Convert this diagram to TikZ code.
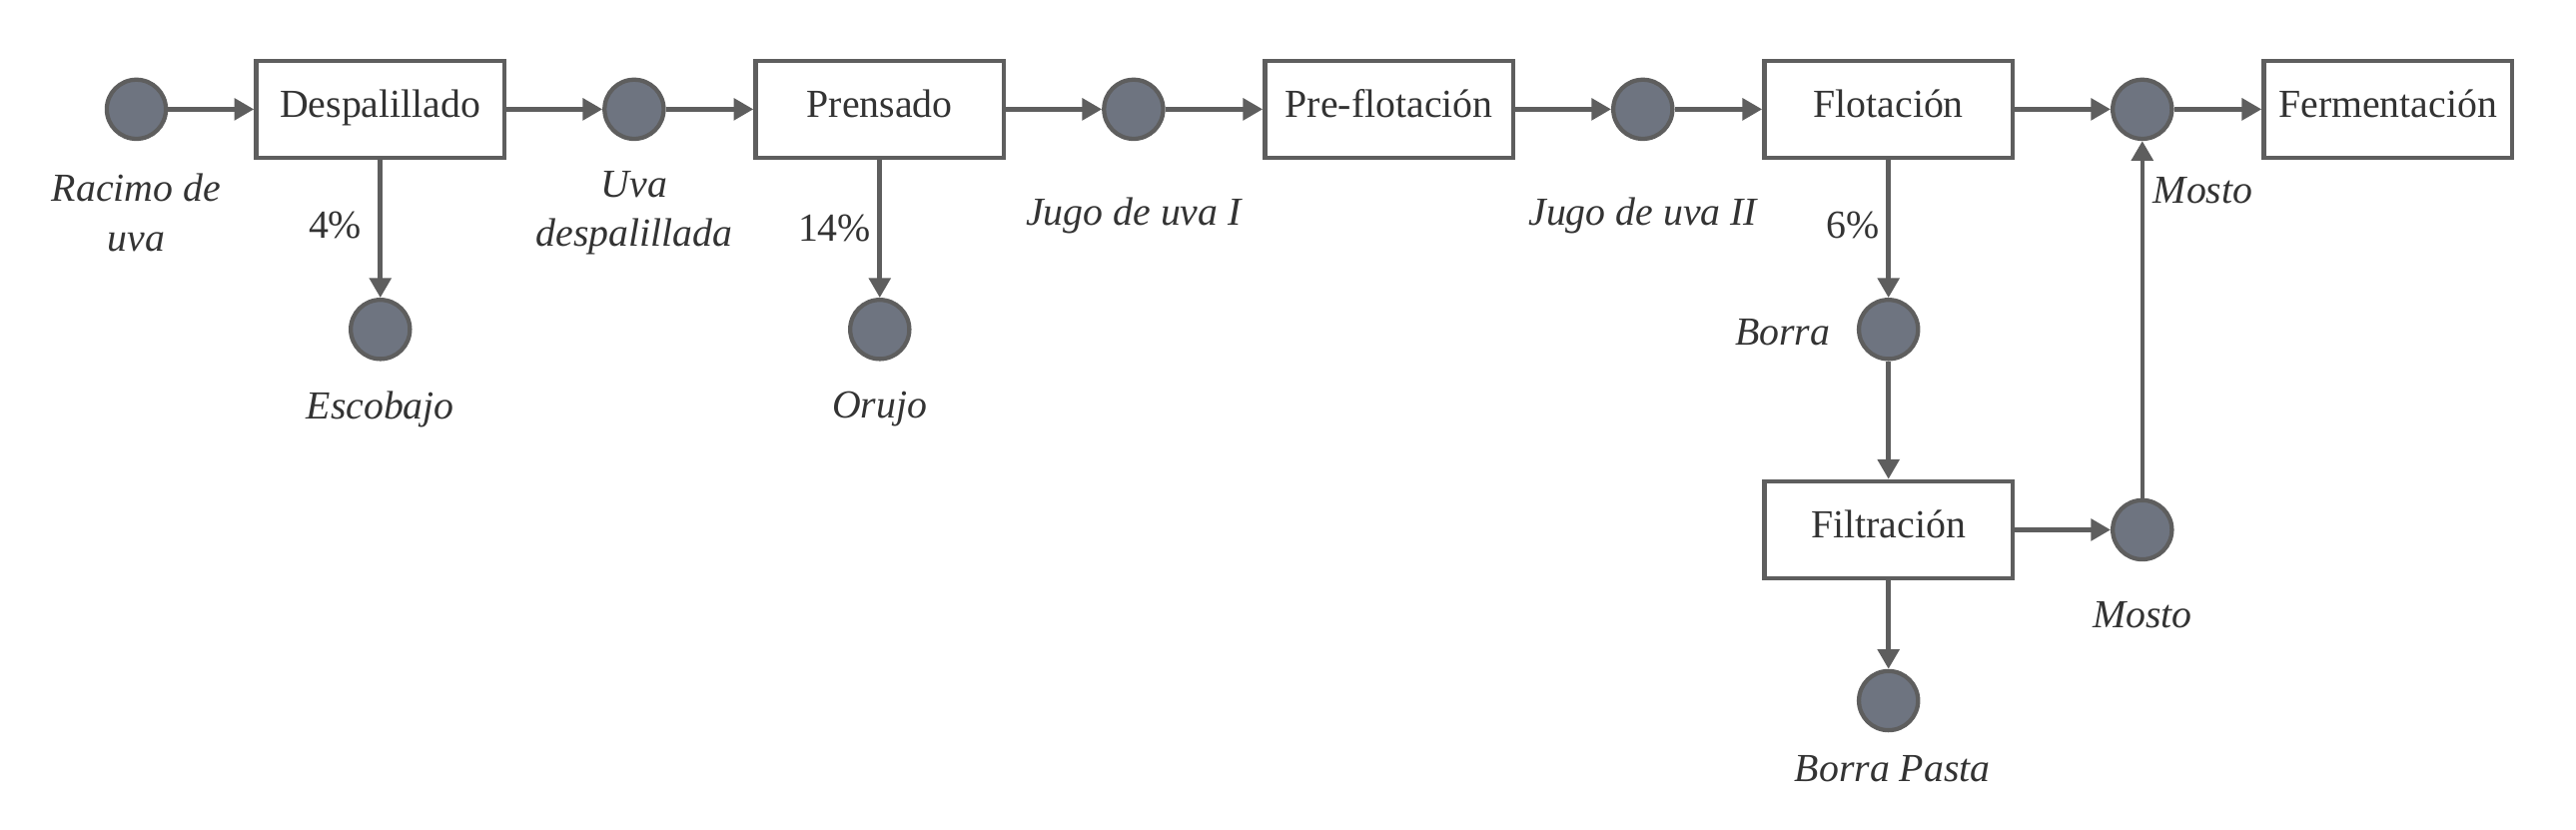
\documentclass[tikz,border=0pt]{standalone}
\usepackage{fontspec}
\setmainfont{Liberation Serif}
\usetikzlibrary{arrows.meta}
\definecolor{linec}{HTML}{5E5E5E}
\definecolor{dotc}{HTML}{6E7480}
\definecolor{txtc}{HTML}{333333}
\begin{document}
\begin{tikzpicture}[x=0.5pt,y=-0.5pt,
  every node/.style={text=txtc,font=\fontsize{12.1}{15}\selectfont},
  proc/.style={draw=linec,line width=1.4pt,fill=white,minimum width=75.5pt,minimum height=29.5pt,inner sep=0pt,text height=8.6pt,text depth=3.6pt},
  dot/.style={circle,draw=linec,line width=1.3pt,fill=dotc,minimum size=18pt,inner sep=0pt},
  lab/.style={font=\fontsize{12.1}{15}\selectfont\itshape,align=center,inner sep=0pt},
  pct/.style={inner sep=0pt},
  flow/.style={draw=linec,line width=1.4pt,-{Triangle[length=6pt,width=6.5pt]}}]
\useasboundingbox (0,0) rectangle (1568,505);
% process boxes
\node[proc] (desp) at (231.5,66.5) {Despalillado};
\node[proc] (pren) at (535.5,66.5) {Prensado};
\node[proc] (pref) at (845.5,66.5) {Pre-flotación};
\node[proc] (flot) at (1149.5,66.5) {Flotación};
\node[proc] (ferm) at (1453.5,66.5) {Fermentación};
\node[proc] (filt) at (1149.5,322.5) {Filtración};
% dots
\node[dot] (racimo) at (83,66.5) {};
\node[dot] (escob) at (231.5,200.5) {};
\node[dot] (uva) at (386,66.5) {};
\node[dot] (orujo) at (535.5,200.5) {};
\node[dot] (jugo1) at (690,66.5) {};
\node[dot] (jugo2) at (1000,66.5) {};
\node[dot] (borra) at (1149.5,200.5) {};
\node[dot] (mosto1) at (1304,66.5) {};
\node[dot] (mosto2) at (1304,322.5) {};
\node[dot] (pasta) at (1149.5,426.5) {};
% labels
\node[lab] (lracimo) at (83,129.5) {Racimo de\\uva};
\node[lab] (luva) at (386,129.5) {Uva\\despalillada};
\node[lab] (lescob) at (231.5,249) {Escobajo};
\node[lab] (lorujo) at (535.5,249) {Orujo};
\node[lab] (ljugo1) at (690,131) {Jugo de uva I};
\node[lab] (ljugo2) at (1000,131) {Jugo de uva II};
\node[lab] (lborra) at (1085,202) {Borra};
\node[lab] (lmosto1) at (1341,116) {Mosto};
\node[lab] (lmosto2) at (1304,374) {Mosto};
\node[lab] (lpasta) at (1152,468) {Borra Pasta};
\node[pct] (p4) at (204,137) {4\%};
\node[pct] (p14) at (508,139) {14\%};
\node[pct] (p6) at (1128,137) {6\%};
% flows
\draw[flow] (racimo) -- (desp);
\draw[flow] (desp) -- (uva);
\draw[flow] (uva) -- (pren);
\draw[flow] (pren) -- (jugo1);
\draw[flow] (jugo1) -- (pref);
\draw[flow] (pref) -- (jugo2);
\draw[flow] (jugo2) -- (flot);
\draw[flow] (flot) -- (mosto1);
\draw[flow] (mosto1) -- (ferm);
\draw[flow] (desp) -- (escob);
\draw[flow] (pren) -- (orujo);
\draw[flow] (flot) -- (borra);
\draw[flow] (borra) -- (filt);
\draw[flow] (filt) -- (mosto2);
\draw[flow] (mosto2) -- (mosto1);
\draw[flow] (filt) -- (pasta);
\end{tikzpicture}
\end{document}
